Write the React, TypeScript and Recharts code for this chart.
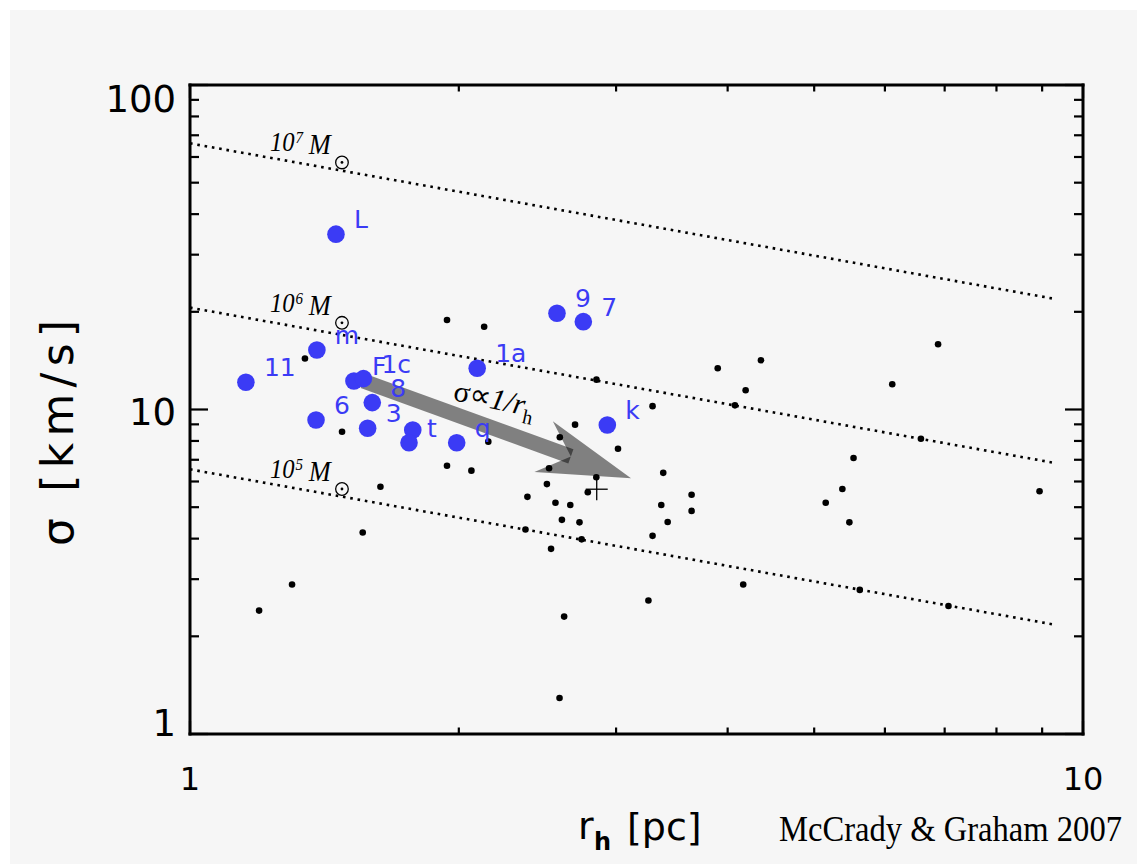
import React from 'react';
import { ScatterChart, Scatter, XAxis, YAxis, ReferenceLine, ReferenceDot } from 'recharts';

// named clusters (blue), r_h in pc, sigma in km/s
const CLUSTER_NAMES = ['L', '11', 'm', 'F', '1c', '8', '6', '3', '', 't', 'q', '1a', '9', '7', 'k'];
const CLUSTER_RH = [1.457, 1.155, 1.387, 1.526, 1.564, 1.6, 1.384, 1.581, 1.776, 1.759, 1.989, 2.097, 2.576, 2.757, 2.933];
const CLUSTER_SIGMA = [34.7, 12.13, 15.26, 12.24, 12.45, 10.5, 9.28, 8.75, 8.65, 7.9, 7.9, 13.4, 19.79, 18.65, 8.96];

// comparison sample (black dots)
const FIELD_RH = [
  1.345, 1.48, 1.634, 1.561, 1.301, 1.195, 1.94, 2.135, 1.94, 2.066,
  2.158, 2.852, 2.699, 2.595, 3.015, 2.524, 2.851, 2.51, 2.387, 2.566,
  2.666, 2.789, 3.296, 3.388, 3.371, 3.427, 2.609, 2.73, 2.375, 3.296,
  2.745, 2.537, 3.645, 3.645, 2.624, 2.593, 3.261, 4.164, 3.899, 4.359,
  4.19, 4.076, 6.882, 6.115, 6.584, 5.534, 5.377, 5.151, 5.475, 8.94,
  5.624, 7.069,
];
const FIELD_SIGMA = [
  14.36, 8.54, 5.78, 4.18, 2.89, 2.4, 18.87, 17.99, 6.71, 6.48,
  7.96, 12.36, 8.98, 8.21, 7.57, 6.59, 6.18, 5.89, 5.38, 5.16,
  5.08, 5.56, 10.24, 6.38, 5.08, 4.5, 4.57, 4.49, 4.27, 4.08,
  3.98, 3.72, 5.46, 4.87, 2.3, 1.291, 2.58, 2.89, 13.4, 14.18,
  11.46, 10.3, 15.88, 11.96, 8.13, 7.09, 5.69, 5.16, 4.49, 5.6,
  2.78, 2.48,
];

const MEAN_RH = [2.854];
const MEAN_SIGMA = [5.68];

// constant-mass lines
const MASS_EXPONENTS = [7, 6, 5];
const MASS_LINE_RH = [1, 9.23];
const MASS_LINE_SIGMA_START = [66.1, 20.6, 6.54];
const MASS_LINE_SIGMA_END = [22.0, 6.87, 2.18];
const MASS_LABEL_RH = 1.229;
const MASS_LABEL_SIGMA = [62.4, 20.0, 6.15];

// sigma ~ 1/r_h arrow
const ARROW_RH = [1.563, 3.118];
const ARROW_SIGMA = [12.24, 6.14];

const X_TICKS = [1, 2, 3, 4, 5, 6, 7, 8, 9, 10];
const Y_TICKS = [1, 2, 3, 4, 5, 6, 7, 8, 9, 10, 20, 30, 40, 50, 60, 70, 80, 90, 100];

const BLUE = '#3b3bf5';
const SANS = 'DejaVu Sans, sans-serif';
const SERIF = 'Liberation Serif, serif';

const isMajor = (v: number) => v === 1 || v === 10 || v === 100;
const Y_LABEL_SHIFT: Record<number, number> = { 1: 2, 10: 15, 100: 27 };

const BottomTick = ({ x, y, payload }: any) => {
  const v = payload.value;
  return (
    <g>
      <line x1={x} x2={x} y1={y} y2={y - (isMajor(v) ? 13 : 6.5)} stroke="#000" strokeWidth={2.2} />
      {isMajor(v) && (
        <text x={x} y={y + 56} textAnchor="middle" fontFamily={SANS} fontSize={32} fill="#000">
          {v}
        </text>
      )}
    </g>
  );
};

const TopTick = ({ x, y, payload }: any) => (
  <line x1={x} x2={x} y1={y} y2={y + (isMajor(payload.value) ? 13 : 6.5)} stroke="#000" strokeWidth={2.2} />
);

const LeftTick = ({ x, y, payload }: any) => {
  const v = payload.value;
  return (
    <g>
      <line x1={x} x2={x + (isMajor(v) ? 18 : 9)} y1={y} y2={y} stroke="#000" strokeWidth={2.2} />
      {isMajor(v) && (
        <text x={x - 14} y={y + Y_LABEL_SHIFT[v]} textAnchor="end" fontFamily={SANS} fontSize={37} fill="#000">
          {v}
        </text>
      )}
    </g>
  );
};

const RightTick = ({ x, y, payload }: any) => (
  <line x1={x} x2={x - (isMajor(payload.value) ? 18 : 9)} y1={y} y2={y} stroke="#000" strokeWidth={2.2} />
);

const massLabel = (exp: number) => (p: any) => {
  const { cx, cy } = p;
  return (
    <g>
      <g transform={`translate(${cx},${cy}) scale(0.88,1)`} fontFamily={SERIF} fontStyle="italic" fill="#000">
        <text x={0} y={0} fontSize={28}>10</text>
        <text x={29} y={-8} fontSize={17}>{exp}</text>
        <text x={44} y={3} fontSize={30}>M</text>
      </g>
      <circle cx={cx + 72} cy={cy + 11} r={6.3} fill="none" stroke="#000" strokeWidth={1.3} />
      <circle cx={cx + 72} cy={cy + 11} r={1.4} fill="#000" />
    </g>
  );
};

const ArrowShape = (p: any) => {
  const { x1, y1, x2, y2 } = p;
  const dx = x2 - x1;
  const dy = y2 - y1;
  const len = Math.hypot(dx, dy);
  const ux = dx / len;
  const uy = dy / len;
  const vx = -uy;
  const vy = ux;
  const pt = (u: number, v: number) => `${x1 + ux * u + vx * v},${y1 + uy * u + vy * v}`;
  const hw = 7.5;
  const notch = len - 64;
  const barb = len - 93;
  const shaft = [pt(0, -hw), pt(notch, -hw), pt(notch, hw), pt(0, hw)].join(' ');
  const head = [pt(len, 0), pt(barb, -27), pt(notch, 0), pt(barb, 27)].join(' ');
  const tx = x1 + 89;
  const ty = y1 + 19;
  return (
    <g>
      <polygon points={shaft} fill="#000" fillOpacity={0.48} />
      <polygon points={head} fill="#000" fillOpacity={0.48} />
      <text x={tx} y={ty} transform={`rotate(12 ${tx} ${ty})`} fontFamily={SERIF} fontSize={30} fill="#000">
        σ∝<tspan fontStyle="italic">1/r</tspan>
        <tspan fontSize={20} dy={8}>h</tspan>
      </text>
    </g>
  );
};

const axisLine = { stroke: '#000', strokeWidth: 3, strokeLinecap: 'square' as const };

export default function App() {
  const clusters = CLUSTER_NAMES.map((name, i) => ({ name, r: CLUSTER_RH[i], s: CLUSTER_SIGMA[i] }));
  const field = FIELD_RH.map((r, i) => ({ r, s: FIELD_SIGMA[i] }));
  const mean = MEAN_RH.map((r, i) => ({ r, s: MEAN_SIGMA[i] }));

  return (
    <div style={{ position: 'fixed', left: 0, top: 0, width: 1146, height: 864, background: '#ffffff', overflow: 'hidden' }}>
      <div style={{ position: 'absolute', left: 10, top: 10, width: 1127, height: 854, background: '#f6f6f6' }} />
      <div style={{ position: 'absolute', left: 0, top: 0 }}>
        <ScatterChart width={1146} height={864} margin={{ top: 84, right: 62, bottom: 129, left: 189 }}>
          <XAxis
            xAxisId={0}
            dataKey="r"
            type="number"
            scale="log"
            domain={[1, 10]}
            allowDataOverflow
            ticks={X_TICKS}
            interval={0}
            height={1}
            tickSize={0}
            tickMargin={0}
            tickLine={false}
            tick={<BottomTick />}
            axisLine={axisLine}
          />
          <XAxis
            xAxisId="top"
            orientation="top"
            dataKey="r"
            type="number"
            scale="log"
            domain={[1, 10]}
            allowDataOverflow
            ticks={X_TICKS}
            interval={0}
            height={1}
            tickSize={0}
            tickMargin={0}
            tickLine={false}
            tick={<TopTick />}
            axisLine={axisLine}
          />
          <YAxis
            yAxisId={0}
            dataKey="s"
            type="number"
            scale="log"
            domain={[1, 100]}
            allowDataOverflow
            ticks={Y_TICKS}
            interval={0}
            width={1}
            tickSize={0}
            tickMargin={0}
            tickLine={false}
            tick={<LeftTick />}
            axisLine={axisLine}
          />
          <YAxis
            yAxisId="right"
            orientation="right"
            dataKey="s"
            type="number"
            scale="log"
            domain={[1, 100]}
            allowDataOverflow
            ticks={Y_TICKS}
            interval={0}
            width={1}
            tickSize={0}
            tickMargin={0}
            tickLine={false}
            tick={<RightTick />}
            axisLine={axisLine}
          />

          {MASS_EXPONENTS.map((exp, i) => (
            <ReferenceLine
              key={`line-${exp}`}
              segment={[
                { x: MASS_LINE_RH[0], y: MASS_LINE_SIGMA_START[i] },
                { x: MASS_LINE_RH[1], y: MASS_LINE_SIGMA_END[i] },
              ]}
              stroke="#000"
              strokeWidth={2.6}
              strokeDasharray="2.6 4.8"
            />
          ))}
          {MASS_EXPONENTS.map((exp, i) => (
            <ReferenceDot key={`lab-${exp}`} x={MASS_LABEL_RH} y={MASS_LABEL_SIGMA[i]} shape={massLabel(exp)} />
          ))}

          <Scatter
            data={field}
            isAnimationActive={false}
            shape={(p: any) => <circle cx={p.cx} cy={p.cy} r={3.3} fill="#000" />}
          />
          <Scatter
            data={mean}
            isAnimationActive={false}
            shape={(p: any) => (
              <g stroke="#000" strokeWidth={1.3}>
                <line x1={p.cx - 11} x2={p.cx + 11} y1={p.cy} y2={p.cy} />
                <line x1={p.cx} x2={p.cx} y1={p.cy - 11} y2={p.cy + 11} />
              </g>
            )}
          />
          <Scatter
            data={clusters}
            isAnimationActive={false}
            shape={(p: any) => <circle cx={p.cx} cy={p.cy} r={8.8} fill={BLUE} />}
          />
          <Scatter
            data={clusters}
            isAnimationActive={false}
            shape={(p: any) => (
              <text x={p.cx + 18} y={p.cy - 6} fontFamily={SANS} fontSize={25} fill={BLUE}>
                {p.payload.name}
              </text>
            )}
          />

          <ReferenceLine
            segment={[
              { x: ARROW_RH[0], y: ARROW_SIGMA[0] },
              { x: ARROW_RH[1], y: ARROW_SIGMA[1] },
            ]}
            shape={ArrowShape}
          />
        </ScatterChart>
      </div>
      <svg width={1146} height={864} style={{ position: 'absolute', left: 0, top: 0, pointerEvents: 'none' }}>
        <text
          transform="translate(73,433) rotate(-90)"
          textAnchor="middle"
          fontFamily={SANS}
          fontSize={44}
          fill="#000"
          textLength={226}
          lengthAdjust="spacing"
        >
          σ [km/s]
        </text>
        <text x={578} y={839} fontFamily={SANS} fontSize={38} fill="#000">r</text>
        <text x={594} y={850} fontFamily={SANS} fontSize={24} fontWeight="bold" fill="#000">h</text>
        <text x={627} y={840} fontFamily={SANS} fontSize={38} fill="#000">[pc]</text>
        <text x={779} y={841} fontFamily={SERIF} fontSize={35} fill="#000" textLength={343} lengthAdjust="spacingAndGlyphs">
          McCrady &amp; Graham  2007
        </text>
      </svg>
    </div>
  );
}
